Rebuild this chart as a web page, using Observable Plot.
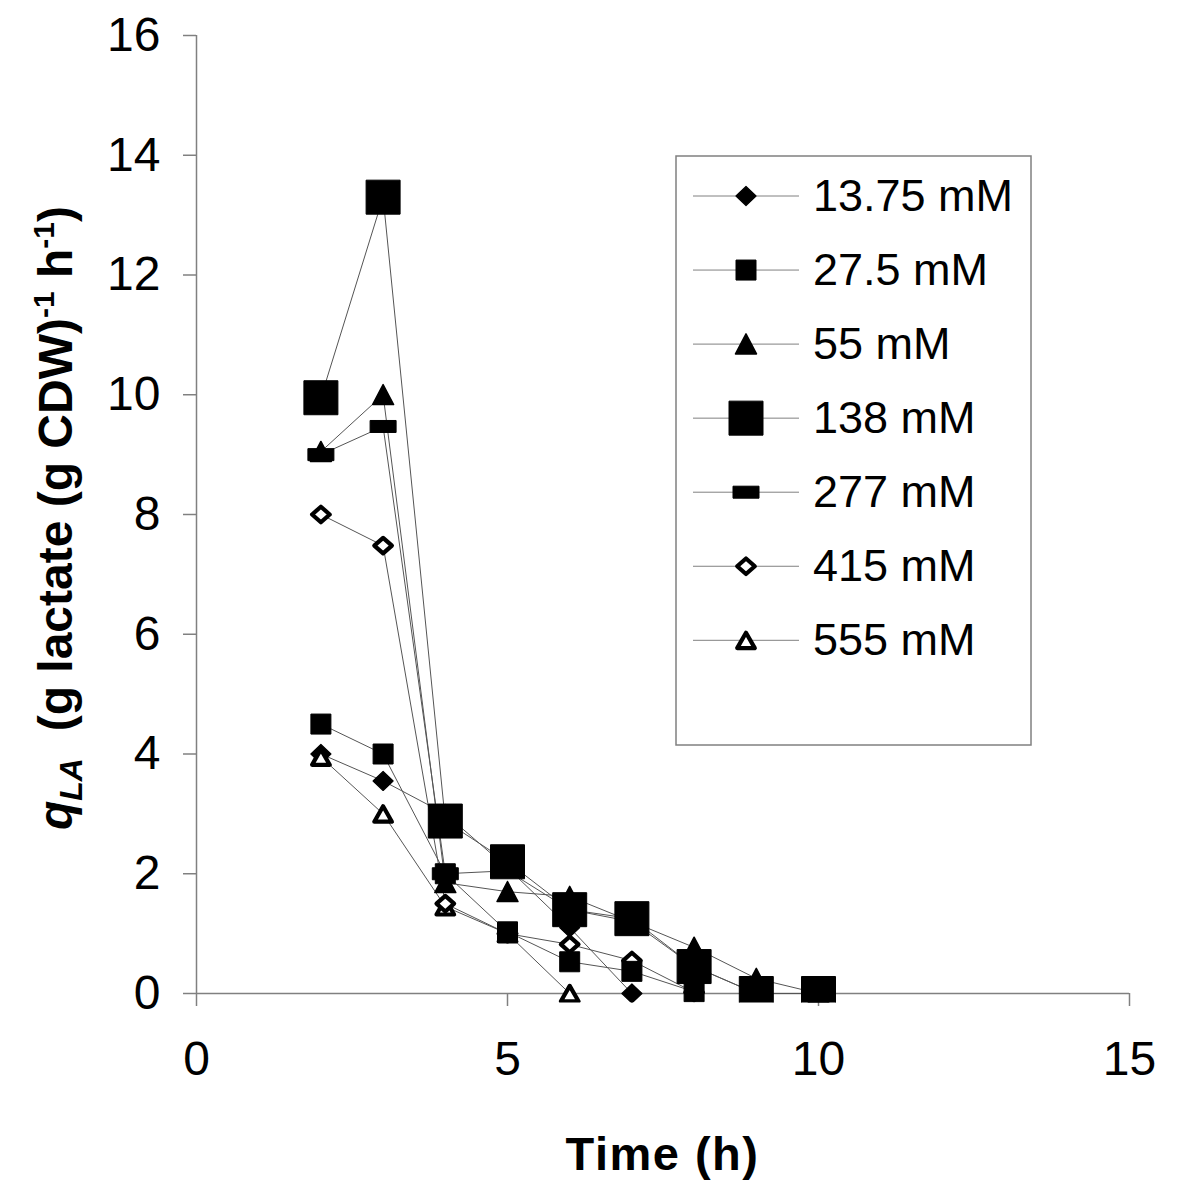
<!DOCTYPE html>
<html><head><meta charset="utf-8">
<script src="https://cdn.jsdelivr.net/npm/d3@7"></script>
<script src="https://cdn.jsdelivr.net/npm/@observablehq/plot@0.6"></script>
<style>body{margin:0;background:#fff;} svg{display:block}</style>
</head><body><div id="chart"></div>
<script>
// ---- data ----
const times = [2, 3, 4, 5, 6, 7, 8, 9, 10];
const seriesNames = ["13.75 mM", "27.5 mM", "55 mM", "138 mM", "277 mM", "415 mM", "555 mM"];
const q1375 = [4.0, 3.55, 3.0, 2.1, 1.1, 0.0];
const q275  = [4.5, 4.0, 2.0, 1.03, 0.53, 0.37, 0.03];
const q55   = [9.05, 10.0, 1.85, 1.7, 1.62, 1.2, 0.77, 0.25, 0.0];
const q138  = [9.95, 13.3, 2.88, 2.2, 1.4, 1.25, 0.45, 0.0, 0.0];
const q277  = [9.0, 9.47, 2.0, 2.05, 1.4, 1.2, 0.45, 0.0];
const q415  = [8.0, 7.48, 1.5, 1.0, 0.82, 0.55, 0.02];
const q555  = [3.95, 3.0, 1.45, 1.0, 0.0];
const xTicks = [0, 5, 10, 15];
const yTicks = [0, 2, 4, 6, 8, 10, 12, 14, 16];

const seriesValues = [q1375, q275, q55, q138, q277, q415, q555];
const rows = seriesValues.flatMap((vals, i) => vals.map((v, j) => ({series: seriesNames[i], t: times[j], v})));

// ---- marker shapes ----
const poly = pts => ({draw(c) { c.moveTo(pts[0][0], pts[0][1]); for (const p of pts.slice(1)) c.lineTo(p[0], p[1]); c.closePath(); }});
const shapes = {
  diamond: poly([[0, -9.5], [10, 0], [0, 9.5], [-10, 0]]),
  square: poly([[-10, -10], [10, -10], [10, 10], [-10, 10]]),
  triangle: poly([[0, -10.2], [10.5, 9.8], [-10.5, 9.8]]),
  bigSquare: poly([[-17, -17], [17, -17], [17, 17], [-17, 17]]),
  dash: poly([[-13, -6], [13, -6], [13, 6], [-13, 6]]),
  openDiamond: poly([[0, -7.8], [8.8, 0], [0, 7.8], [-8.8, 0]]),
  openTriangle: poly([[0, -7.6], [8.8, 7.8], [-8.8, 7.8]])
};
const seriesStyle = [
  {shape: "diamond", fill: "black", sw: 1.2},
  {shape: "square", fill: "black", sw: 1},
  {shape: "triangle", fill: "black", sw: 1.5},
  {shape: "bigSquare", fill: "black", sw: 1},
  {shape: "dash", fill: "black", sw: 1},
  {shape: "openDiamond", fill: "white", sw: 4.2},
  {shape: "openTriangle", fill: "white", sw: 4.2}
];
const drawOrder = [4, 2, 0, 6, 5, 1, 3];

const font = "'Liberation Sans', Arial, sans-serif";

const plot = Plot.plot({
  width: 1200, height: 1184,
  marginLeft: 196, marginRight: 71, marginTop: 35, marginBottom: 191,
  style: {fontFamily: font, background: "white", color: "black"},
  x: {domain: [0, 15]},
  y: {domain: [0, 16]},
  marks: [
    Plot.axisX({ticks: xTicks, tickSize: 13, tickPadding: 34, fontSize: 48, stroke: "#808080", fill: "black", strokeWidth: 1.5, label: null}),
    Plot.axisY({ticks: yTicks, tickSize: 13, tickPadding: 23, fontSize: 48, stroke: "#808080", fill: "black", strokeWidth: 1.5, label: null}),
    Plot.ruleY([0], {stroke: "#808080", strokeWidth: 1.5}),
    Plot.ruleX([0], {stroke: "#808080", strokeWidth: 1.5}),
    Plot.line(rows, {x: "t", y: "v", z: "series", stroke: "#555", strokeWidth: 1}),
    ...drawOrder.map(i => Plot.dot(rows.filter(d => d.series === seriesNames[i]), {
      x: "t", y: "v", symbol: shapes[seriesStyle[i].shape],
      fill: seriesStyle[i].fill, stroke: "black", strokeWidth: seriesStyle[i].sw, strokeLinejoin: "round"
    }))
  ]
});
document.getElementById("chart").appendChild(plot);

const svg = d3.select(plot);
const ys = plot.scale("y"), xs = plot.scale("x");
const y0 = ys.apply(0);

// clip markers slightly below the x axis, as in the original
svg.append("defs").append("clipPath").attr("id", "mclip")
  .append("rect").attr("x", 0).attr("y", 0).attr("width", 1200).attr("height", y0 + 9);
svg.selectAll("g[aria-label='dot']").attr("clip-path", "url(#mclip)");

// y axis title
const yt = svg.append("text")
  .attr("transform", `translate(72,${(ys.apply(0) + ys.apply(16)) / 2 + 4}) rotate(-90)`)
  .attr("text-anchor", "middle").attr("font-family", font).attr("font-weight", "bold")
  .attr("font-size", 48).attr("fill", "black");
yt.append("tspan").attr("font-style", "italic").text("q");
yt.append("tspan").attr("font-style", "italic").attr("font-size", 32).attr("dy", 10).text("LA");
yt.append("tspan").attr("dy", -10).attr("xml:space", "preserve").text("  (g lactate (g CDW)");
yt.append("tspan").attr("font-size", 30).attr("dy", -18).text("-1");
yt.append("tspan").attr("dy", 18).text(" h");
yt.append("tspan").attr("font-size", 30).attr("dy", -18).text("-1");
yt.append("tspan").attr("dy", 18).text(")");

// x axis title
svg.append("text")
  .attr("x", (xs.apply(0) + xs.apply(15)) / 2).attr("y", 1170)
  .attr("text-anchor", "middle").attr("font-family", font).attr("font-weight", "bold")
  .attr("font-size", 47).attr("letter-spacing", 1.5).attr("fill", "black").text("Time (h)");

// legend
const lg = svg.append("g");
lg.append("rect").attr("x", 676).attr("y", 156).attr("width", 355).attr("height", 589)
  .attr("fill", "white").attr("stroke", "#808080").attr("stroke-width", 1.5);
seriesNames.forEach((name, i) => {
  const cy = 196 + i * 74.05;
  lg.append("line").attr("x1", 693).attr("x2", 799).attr("y1", cy).attr("y2", cy)
    .attr("stroke", "#808080").attr("stroke-width", 1);
  const st = seriesStyle[i];
  lg.append("path").attr("transform", `translate(746,${cy})`)
    .attr("d", d3.symbol().type(shapes[st.shape]).size(64)())
    .attr("fill", st.fill).attr("stroke", "black").attr("stroke-width", st.sw).attr("stroke-linejoin", "round");
  lg.append("text").attr("x", 813).attr("y", cy + 15).attr("text-anchor", "start")
    .attr("font-family", font).attr("font-size", 45).attr("fill", "black").text(name);
});
</script>
</body></html>
